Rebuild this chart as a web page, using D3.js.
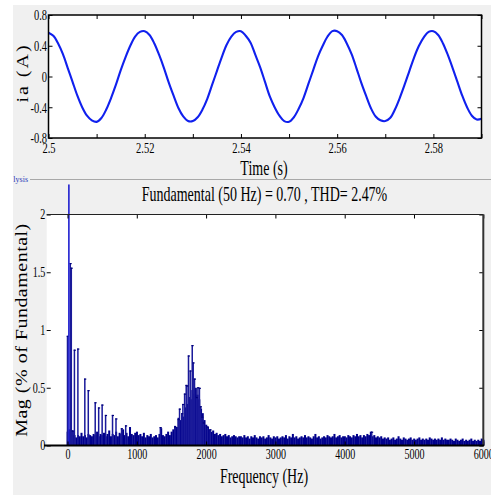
<!DOCTYPE html>
<html><head><meta charset="utf-8">
<script src="https://cdn.jsdelivr.net/npm/d3@7"></script>
<style>
html,body{margin:0;padding:0;background:#fff;}
svg{display:block;}
text{font-family:"Liberation Serif","Times New Roman",serif;fill:#000;}
</style>
</head><body>
<svg id="c" width="491" height="495"></svg>
<script>
// ---------- DATA ----------
// phase current ia (A), sampled every 1 ms from t = 2.500 s to 2.590 s
const timeStart = 2.5;
const timeStep = 0.001;
const iaValues = [
  0.57,0.53,0.43,0.29,0.11,-0.07,-0.25,-0.40,-0.51,-0.57,-0.59,-0.54,-0.43,-0.28,-0.11,0.08,0.25,0.40,0.52,0.58,
  0.59,0.54,0.43,0.28,0.11,-0.08,-0.25,-0.41,-0.52,-0.58,-0.58,-0.53,-0.43,-0.29,-0.11,0.07,0.25,0.41,0.52,0.58,
  0.59,0.53,0.44,0.28,0.12,-0.07,-0.26,-0.40,-0.51,-0.58,-0.59,-0.53,-0.42,-0.28,-0.10,0.08,0.26,0.40,0.52,0.59,
  0.59,0.54,0.43,0.29,0.11,-0.08,-0.25,-0.41,-0.52,-0.57,-0.58,-0.54,-0.43,-0.28,-0.11,0.07,0.25,0.40,0.51,0.58,
  0.59,0.54,0.43,0.28,0.11,-0.07,-0.25,-0.40,-0.51,-0.56,-0.55
];
const timeTicks = [2.5,2.51,2.52,2.53,2.54,2.55,2.56,2.57,2.58,2.59];
const timeTickLabels = ["2.5","","2.52","","2.54","","2.56","","2.58",""];
const iaTicks = [-0.8,-0.4,0,0.4,0.8];
const iaTickLabels = ["-0.8","-0.4","0","0.4","0.8"];

// FFT spectrum (% of fundamental)
const fundamentalFreq = 20;
const fundamentalMag = 2.26;
const peakFreqs = [0,40,55,70,100,150,250,300,400,450,500,550,650,700,780,840,1340,
  1550,1600,1617,1650,1665,1690,1713,1723,1746,1771,1800,1814,1833,1860,1882,1904,1920,1940,1963,2020,2060,4390];
const peakMags  = [0.95,1.58,1.54,0.13,0.83,0.84,0.58,0.48,0.375,0.33,0.355,0.265,0.265,0.235,0.15,0.175,0.16,
  0.165,0.23,0.32,0.28,0.36,0.45,0.525,0.52,0.78,0.65,0.87,0.72,0.58,0.42,0.505,0.50,0.34,0.25,0.20,0.165,0.14,0.12];
const floorStep = 25; // Hz
const floorMags = [
  0.12,0.14,0.10,0.13,0.09,0.07,0.09,0.08,0.11,0.08,0.09,0.07,0.10,0.09,0.08,0.10,0.09,0.12,0.08,0.10,
  0.09,0.11,0.08,0.10,0.13,0.08,0.10,0.09,0.12,0.08,0.11,0.10,0.14,0.09,0.11,0.08,0.16,0.10,0.09,0.11,
  0.12,0.09,0.10,0.08,0.11,0.07,0.09,0.08,0.10,0.07,0.08,0.09,0.07,0.10,0.15,0.09,0.08,0.10,0.12,0.09,
  0.12,0.14,0.17,0.16,0.24,0.22,0.27,0.25,0.33,0.36,0.42,0.40,0.48,0.45,0.50,0.44,0.40,0.32,0.28,0.22,
  0.18,0.16,0.14,0.12,0.13,0.10,0.11,0.09,0.10,0.08,0.09,0.10,0.08,0.09,0.07,0.08,0.09,0.08,0.07,0.08,
  0.08,0.07,0.09,0.07,0.08,0.06,0.08,0.07,0.09,0.07,0.06,0.08,0.07,0.08,0.06,0.07,0.09,0.07,0.06,0.08,
  0.07,0.08,0.06,0.07,0.08,0.07,0.09,0.06,0.08,0.07,0.10,0.07,0.08,0.06,0.07,0.08,0.07,0.09,0.07,0.08,
  0.07,0.06,0.08,0.10,0.07,0.08,0.06,0.07,0.08,0.07,0.09,0.08,0.07,0.08,0.10,0.07,0.08,0.09,0.07,0.08,
  0.08,0.07,0.09,0.08,0.07,0.09,0.08,0.10,0.08,0.09,0.07,0.09,0.08,0.10,0.09,0.12,0.08,0.09,0.07,0.08,
  0.07,0.08,0.06,0.07,0.06,0.07,0.05,0.06,0.07,0.05,0.06,0.08,0.06,0.05,0.07,0.06,0.05,0.06,0.07,0.05,
  0.06,0.05,0.06,0.07,0.05,0.06,0.05,0.06,0.05,0.07,0.06,0.05,0.06,0.05,0.06,0.05,0.07,0.05,0.06,0.05,
  0.05,0.06,0.05,0.04,0.06,0.05,0.04,0.05,0.06,0.04,0.05,0.04,0.05,0.06,0.04,0.05,0.04,0.05,0.04,0.06,
  0.05
];
const freqTicks = [0,1000,2000,3000,4000,5000,6000];
const freqTickLabels = ["0","1000","2000","3000","4000","5000","6000"];
const magTicks = [0,0.5,1,1.5,2];
const magTickLabels = ["0","0.5","1","1.5","2"];

const titleText = "Fundamental (50 Hz) = 0.70 , THD= 2.47%";

// ---------- DRAW ----------
const svg = d3.select("#c");
const SX = 0.7;

svg.append("rect").attr("x",13).attr("y",5).attr("width",478).attr("height",490).attr("fill","#f0f0f0");

function label(g, x, y, s, size, anchor, sx){
  return g.append("text")
    .attr("transform",`translate(${x},${y}) scale(${sx},1)`)
    .attr("text-anchor",anchor).attr("font-size",size).text(s);
}
function styleAxis(g){
  g.selectAll(".tick line").attr("stroke","#000");
  g.select(".domain").remove();
}

// ---- top chart ----
const tScale = d3.scaleLinear([2.5, 2.59],[48.5, 481.5]);
const iScale = d3.scaleLinear([-0.8, 0.8],[138, 15]);
const gTop = svg.append("g");
gTop.append("rect").attr("x",48.5).attr("y",15).attr("width",433).attr("height",123).attr("fill","#fff");

const iaPts = iaValues.map((v,i)=>[timeStart + i*timeStep, v]);
const line = d3.line().x(d=>tScale(d[0])).y(d=>iScale(d[1])).curve(d3.curveCatmullRom);
gTop.append("path").datum(iaPts).attr("d",line).attr("fill","none")
  .attr("stroke","#1020ee").attr("stroke-width",2.1).attr("stroke-linejoin","round");

const axB = gTop.append("g").attr("transform","translate(0,138)")
  .call(d3.axisBottom(tScale).tickValues(timeTicks).tickFormat((d,i)=>timeTickLabels[i]).tickSize(-4).tickPadding(4));
styleAxis(axB);
axB.selectAll("text").attr("font-size",15).attr("font-family","Liberation Serif").attr("transform",`scale(${SX},1)`);
const axT = gTop.append("g").attr("transform","translate(0,15)")
  .call(d3.axisTop(tScale).tickValues(timeTicks).tickFormat("").tickSize(-4));
styleAxis(axT);
const axL = gTop.append("g").attr("transform","translate(48.5,0)")
  .call(d3.axisLeft(iScale).tickValues(iaTicks).tickFormat((d,i)=>iaTickLabels[i]).tickSize(-4).tickPadding(2));
styleAxis(axL);
axL.selectAll("text").attr("font-size",15).attr("font-family","Liberation Serif").attr("transform",`scale(${SX},1)`);
const axR = gTop.append("g").attr("transform","translate(481.5,0)")
  .call(d3.axisRight(iScale).tickValues(iaTicks).tickFormat("").tickSize(-4));
styleAxis(axR);
gTop.append("rect").attr("x",48.5).attr("y",15).attr("width",433).attr("height",123)
  .attr("fill","none").attr("stroke","#000").attr("stroke-width",1.5);

label(gTop, 264, 175, "Time (s)", 20, "middle", SX);
gTop.append("text").attr("transform","translate(28,73) rotate(-90) scale(1,0.85)")
  .attr("text-anchor","middle").attr("font-size",20).attr("letter-spacing",2).text("ia (A)");

// panel header
svg.append("line").attr("x1",30).attr("x2",491).attr("y1",179.5).attr("y2",179.5).attr("stroke","#a8a8a8");
svg.append("text").attr("x",28).attr("y",182).attr("text-anchor","end").attr("font-size",8)
  .attr("font-family","DejaVu Sans").style("fill","#2a3ab8").text("lysis");

// ---- bottom chart ----
const fScale = d3.scaleLinear([-300, 6000],[46.7, 483.3]);
const mScale = d3.scaleLinear([0, 2],[445.5, 214.5]);
const gBot = svg.append("g");
gBot.append("rect").attr("x",46.7).attr("y",214.5).attr("width",436.6).attr("height",231).attr("fill","#fff");

const bw = fScale(floorStep) - fScale(0);
gBot.append("g").selectAll("rect").data(floorMags).join("rect")
  .attr("x",(d,i)=>fScale(i*floorStep) - bw/2)
  .attr("width",bw+0.3)
  .attr("y",d=>mScale(d))
  .attr("height",d=>mScale(0)-mScale(d))
  .attr("fill","#00008b");

const peaks = peakFreqs.map((f,i)=>({f, m: peakMags[i]}));
gBot.append("g").selectAll("rect").data(peaks).join("rect")
  .attr("x",d=>fScale(d.f)-0.75).attr("width",1.5)
  .attr("y",d=>mScale(d.m)).attr("height",d=>mScale(0)-mScale(d.m))
  .attr("fill","#1a1a9a");
gBot.append("g").selectAll("rect").data(peaks).join("rect")
  .attr("x",d=>fScale(d.f)-0.75).attr("width",2.2)
  .attr("y",d=>mScale(d.m)).attr("height",1.2)
  .attr("fill","#00007a");

gBot.append("rect").attr("x",fScale(fundamentalFreq)-0.8).attr("width",1.6)
  .attr("y",mScale(fundamentalMag)).attr("height",mScale(0)-mScale(fundamentalMag))
  .attr("fill","#2020d0");

const bB = gBot.append("g").attr("transform","translate(0,445.5)")
  .call(d3.axisBottom(fScale).tickValues(freqTicks).tickFormat((d,i)=>freqTickLabels[i]).tickSize(-4).tickPadding(4));
styleAxis(bB);
bB.selectAll("text").attr("font-size",14).attr("font-family","Liberation Serif").attr("transform",`scale(0.72,1)`);
const bT = gBot.append("g").attr("transform","translate(0,214.5)")
  .call(d3.axisTop(fScale).tickValues(freqTicks).tickFormat("").tickSize(-4));
styleAxis(bT);
const bL = gBot.append("g").attr("transform","translate(46.7,0)")
  .call(d3.axisLeft(mScale).tickValues(magTicks).tickFormat((d,i)=>magTickLabels[i]).tickSize(-4).tickPadding(2));
styleAxis(bL);
bL.selectAll("text").attr("font-size",14).attr("font-family","Liberation Serif").attr("transform",`scale(0.72,1)`);
const bR = gBot.append("g").attr("transform","translate(483.3,0)")
  .call(d3.axisRight(mScale).tickValues(magTicks).tickFormat("").tickSize(-4));
styleAxis(bR);

gBot.append("line").attr("x1",46.7).attr("x2",483.3).attr("y1",214.5).attr("y2",214.5).attr("stroke","#222").attr("stroke-width",1);
gBot.append("line").attr("x1",483.3).attr("x2",483.3).attr("y1",214.5).attr("y2",446).attr("stroke","#333").attr("stroke-width",2);
gBot.append("line").attr("x1",44).attr("x2",484).attr("y1",445.5).attr("y2",445.5).attr("stroke","#000").attr("stroke-width",2);

label(gBot, 264.5, 201, titleText, 20, "middle", SX);
label(gBot, 264, 483, "Frequency (Hz)", 20, "middle", SX);
gBot.append("text").attr("transform","translate(27,330) rotate(-90) scale(1,0.85)")
  .attr("text-anchor","middle").attr("font-size",20).attr("letter-spacing",0.5).text("Mag (% of Fundamental)");
</script>
</body></html>
